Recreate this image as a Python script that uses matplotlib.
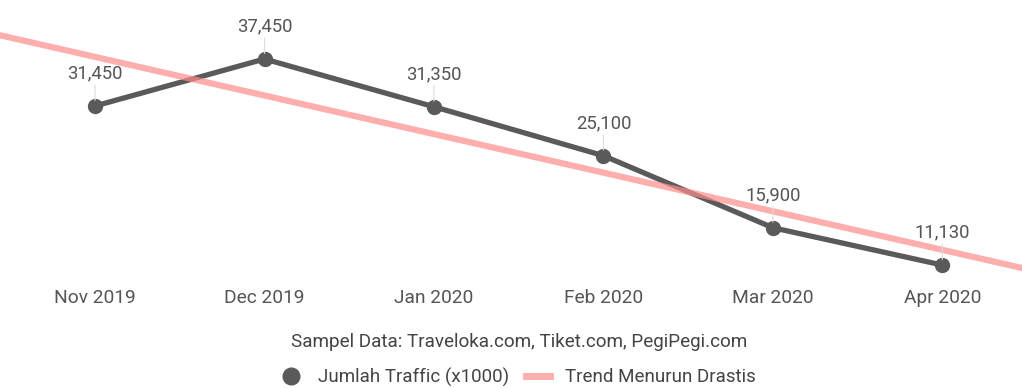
import matplotlib.pyplot as plt
from matplotlib.lines import Line2D
import numpy as np

# data
months = ["Nov 2019", "Dec 2019", "Jan 2020", "Feb 2020", "Mar 2020", "Apr 2020"]
traffic = [31450, 37450, 31350, 25100, 15900, 11130]
value_labels = ["31,450", "37,450", "31,350", "25,100", "15,900", "11,130"]

plt.rcParams['font.family'] = ['Roboto', 'DejaVu Sans']

fig = plt.figure(figsize=(10.22, 3.88), dpi=100)
ax = fig.add_axes([0, 1 - 285 / 388, 1, 285 / 388])

x = np.arange(len(months))

# trend (linear fit of the data)
slope, intercept = np.polyfit(x, traffic, 1)
ax.axline((0, intercept), slope=slope, color="#ff8c8c", alpha=0.7, lw=4.5, zorder=3)

ax.plot(x, traffic, color="#5a5a5a", lw=3.8, marker="o", markersize=10, zorder=2)

for xi, v, lab in zip(x, traffic, value_labels):
    ax.annotate(lab, (xi, v), xytext=(0, 17), textcoords="offset points",
                ha="center", va="bottom", fontsize=13.3, color="#555555",
                arrowprops=dict(arrowstyle="-", color="#dddddd", lw=0.8,
                                shrinkA=0, shrinkB=4))

ax.set_xlim(-0.561, 5.47)
ax.set_ylim(8587, 44985)
ax.set_xticks(x)
ax.set_xticklabels(months, fontsize=13.8, color="#555555")
ax.tick_params(axis="x", length=0, pad=3)
ax.set_yticks([])
for s in ax.spines.values():
    s.set_visible(False)

fig.text(0.508, 1 - 342 / 388, "Sampel Data: Traveloka.com, Tiket.com, PegiPegi.com",
         ha="center", va="center", fontsize=13.6, color="#444444")

handles = [
    Line2D([], [], color="#5a5a5a", marker="o", markersize=12, lw=0),
    Line2D([], [], color="#ff8c8c", alpha=0.7, lw=5),
]
fig.legend(handles, ["Jumlah Traffic (x1000)", "Trend Menurun Drastis"],
           loc="center", bbox_to_anchor=(0.506, 1 - 377 / 388), ncol=2,
           frameon=False, fontsize=13.5, labelcolor="#444444",
           handlelength=1.3, columnspacing=0.9, handletextpad=0.8)

plt.savefig("out.png", dpi=100)
plt.close()
